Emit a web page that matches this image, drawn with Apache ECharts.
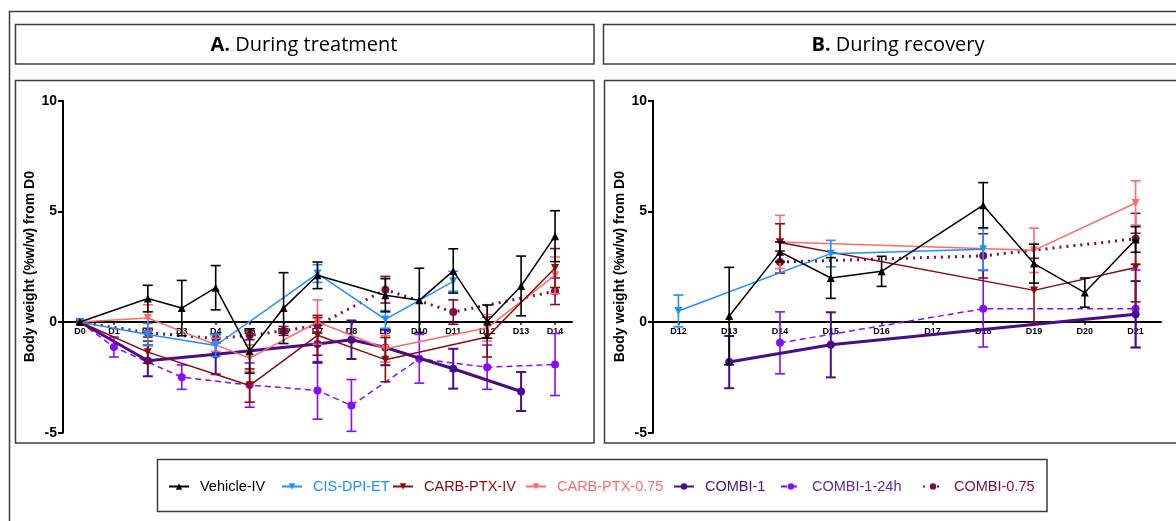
<!DOCTYPE html>
<html>
<head>
<meta charset="utf-8">
<script src="https://cdn.jsdelivr.net/npm/echarts@6/dist/echarts.min.js"></script>
<style>
html,body{margin:0;padding:0;background:#fff;}
#chart{width:1176px;height:521px;}
</style>
</head>
<body>
<div id="chart"></div>
<script>
// ---------- DATA ----------
const daysA = ['D0','D1','D2','D3','D4','D5','D6','D7','D8','D9','D10','D11','D12','D13','D14'];
const daysB = ['D12','D13','D14','D15','D16','D17','D18','D19','D20','D21'];
const yTicks = [-5, 0, 5, 10];
const seriesNames = ['Vehicle-IV','CIS-DPI-ET','CARB-PTX-IV','CARB-PTX-0.75','COMBI-1','COMBI-1-24h','COMBI-0.75'];

// Panel A (during treatment): means and error (SEM)
const vehicleA      = [0, null, 1.06, 0.63, 1.55, -1.31, 0.63, 2.11, null, 1.21, 0.98, 2.31, 0.02, 1.63, 3.88];
const vehicleA_err  = [0, null, 0.6, 1.25, 1.0, 1.0, 1.6, 0.6, null, 0.75, 1.45, 1.0, 0.75, 1.35, 1.15];
const cisA          = [0, null, -0.56, null, -1.06, null, null, 2.19, null, 0.12, null, 1.84, null, null, null];
const cisA_err      = [0, null, 0.5, null, 0.5, null, null, 0.4, null, 0.4, null, 0.45, null, null, null];
const carbA         = [0, null, -1.36, null, null, -2.87, null, -0.6, null, -1.7, null, null, -0.68, null, 2.44];
const carbA_err     = [0, null, 0.5, null, null, 0.75, null, 0.9, null, 1.0, null, null, 0.9, null, 0.88];
const carb075A      = [0, null, 0.18, null, -1.03, -1.63, null, 0.0, null, -1.21, null, null, -0.26, null, 2.11];
const carb075A_err  = [0, null, 0.6, null, 0.3, 0.6, null, 1.0, null, 0.6, null, null, 0.6, null, 0.83];
const combi1A       = [0, null, -1.75, null, -1.46, null, null, -0.99, -0.8, -1.15, null, -2.11, null, -3.14, null];
const combi1A_err   = [0, null, 0.7, null, 0.9, null, null, 0.85, 0.87, 0.8, null, 0.9, null, 0.88, null];
const combi24A      = [0, -1.13, null, -2.49, null, -2.85, null, -3.09, -3.77, null, -1.66, null, -2.04, null, -1.92];
const combi24A_err  = [0, 0.45, null, 0.55, null, 1.0, null, 1.3, 1.17, null, 1.1, null, 1.0, null, 1.4];
const combi075A     = [0, null, -0.48, null, -0.75, -0.6, -0.4, -0.15, null, 1.46, null, 0.45, null, null, 1.39];
const combi075A_err = [0, null, 0.2, null, 0.2, 0.2, 0.2, 0.35, null, 0.6, null, 0.55, null, null, 0.6];

// Panel B (during recovery)
const vehicleB      = [null, 0.27, 3.17, 1.99, 2.29, null, 5.28, 2.64, 1.33, 3.73];
const vehicleB_err  = [null, 2.2, 0.45, 0.92, 0.68, null, 1.02, 0.88, 0.66, 0.58];
const cisB          = [0.5, null, null, 3.09, null, null, 3.29, null, null, null];
const cisB_err      = [0.72, null, null, 0.6, null, null, 0.94, null, null, null];
const carbB         = [null, null, 3.59, null, null, null, null, 1.43, null, 2.46];
const carbB_err     = [null, null, 0.85, null, null, null, null, 1.45, null, 1.55];
const carb075B      = [null, null, 3.62, null, null, null, null, 3.24, null, 5.38];
const carb075B_err  = [null, null, 1.2, null, null, null, null, 1.0, null, 1.0];
const combi1B       = [null, -1.81, null, -1.03, null, null, null, null, null, 0.35];
const combi1B_err   = [null, 1.18, null, 1.47, null, null, null, null, null, 1.5];
const combi24B      = [null, null, -0.94, null, null, null, 0.6, null, null, 0.6];
const combi24B_err  = [null, null, 1.4, null, null, null, 1.73, null, null, 1.75];
const combi075B     = [null, null, 2.71, null, null, null, 2.99, null, null, 3.76];
const combi075B_err = [null, null, 0.5, null, null, null, 1.0, null, null, 1.15];

// ---------- STYLES ----------
const styles = {
  'Vehicle-IV':    {color:'#000000', text:'#000000', symbol:'triangle', rot:0,   lw:1.5, type:'solid',  size:8},
  'CIS-DPI-ET':    {color:'#1e8fff', text:'#1e8fff', symbol:'triangle', rot:180, lw:1.5, type:'solid',  size:8},
  'CARB-PTX-IV':   {color:'#8b0a0a', text:'#8b0a0a', symbol:'triangle', rot:180, lw:1.5, type:'solid',  size:8},
  'CARB-PTX-0.75': {color:'#ff6a6a', text:'#ff6a6a', symbol:'triangle', rot:180, lw:1.5, type:'solid',  size:8},
  'COMBI-1':       {color:'#4a0c8a', text:'#4a0c8a', symbol:'circle',   rot:0,   lw:3,   type:'solid',  size:8},
  'COMBI-1-24h':   {color:'#8a0cff', text:'#5a2aa0', symbol:'circle',   rot:0,   lw:1.5, type:[6,4],    size:8},
  'COMBI-0.75':    {color:'#7d0c44', text:'#7d0c44', symbol:'circle',   rot:0,   lw:3,   type:[2,5],    size:8}
};

const panelA = {
  'Vehicle-IV':[vehicleA, vehicleA_err], 'CIS-DPI-ET':[cisA, cisA_err], 'CARB-PTX-IV':[carbA, carbA_err],
  'CARB-PTX-0.75':[carb075A, carb075A_err], 'COMBI-1':[combi1A, combi1A_err], 'COMBI-1-24h':[combi24A, combi24A_err],
  'COMBI-0.75':[combi075A, combi075A_err]
};
const panelB = {
  'Vehicle-IV':[vehicleB, vehicleB_err], 'CIS-DPI-ET':[cisB, cisB_err], 'CARB-PTX-IV':[carbB, carbB_err],
  'CARB-PTX-0.75':[carb075B, carb075B_err], 'COMBI-1':[combi1B, combi1B_err], 'COMBI-1-24h':[combi24B, combi24B_err],
  'COMBI-0.75':[combi075B, combi075B_err]
};

function errData(mean, err) {
  const out = [];
  mean.forEach((m, i) => {
    if (m !== null && err[i] !== null && err[i] > 0) out.push([i, m - err[i], m + err[i]]);
  });
  return out;
}

function buildSeries(panel, idx) {
  const list = [];
  const drawOrder = ['COMBI-1-24h','COMBI-1','COMBI-0.75','CARB-PTX-0.75','CARB-PTX-IV','CIS-DPI-ET','Vehicle-IV'];
  drawOrder.forEach((name, k) => {
    const st = styles[name];
    const [mean, err] = panel[name];
    list.push({
      name: name,
      type: 'line',
      xAxisIndex: idx, yAxisIndex: idx,
      z: 2 + k,
      data: mean,
      connectNulls: true,
      symbol: st.symbol,
      symbolRotate: st.rot,
      symbolSize: st.size,
      showAllSymbol: true,
      itemStyle: {color: st.color},
      lineStyle: {color: st.color, width: st.lw, type: st.type},
      emphasis: {disabled: true},
      animation: false
    });
    list.push({
      name: name + ' (error)',
      type: 'custom',
      xAxisIndex: idx, yAxisIndex: idx,
      z: 2 + k,
      silent: true,
      data: errData(mean, err),
      renderItem: function (params, api) {
        const x = api.value(0);
        const lo = api.coord([x, api.value(1)]);
        const hi = api.coord([x, api.value(2)]);
        const hw = 5;
        const ls = {stroke: st.color, lineWidth: name === 'COMBI-1' ? 2 : 1.6};
        return {type:'group', children:[
          {type:'line', shape:{x1:lo[0], y1:lo[1], x2:hi[0], y2:hi[1]}, style:ls},
          {type:'line', shape:{x1:lo[0]-hw, y1:lo[1], x2:lo[0]+hw, y2:lo[1]}, style:ls},
          {type:'line', shape:{x1:hi[0]-hw, y1:hi[1], x2:hi[0]+hw, y2:hi[1]}, style:ls}
        ]};
      }
    });
  });
  return list;
}

function xAxisCfg(days, idx) {
  return {
    type: 'category', data: days, gridIndex: idx, boundaryGap: true,
    position: 'bottom', offset: -111,
    axisLine: {onZero: false, lineStyle: {color: '#000', width: 2}},
    axisTick: {show: true, alignWithLabel: true, length: 3, lineStyle: {color: '#000', width: 1.5}},
    axisLabel: {color: '#000', fontFamily: 'Liberation Sans', fontWeight: 'bold', fontSize: 9, margin: 5, interval: 0},
    splitLine: {show: false}
  };
}
function yAxisCfg(idx) {
  return {
    type: 'value', gridIndex: idx, min: yTicks[0], max: yTicks[yTicks.length-1], interval: 5,
    name: 'Body weight (%w/w) from D0', nameLocation: 'middle', nameGap: 20, nameRotate: 90,
    nameTextStyle: {color: '#000', fontFamily: 'Liberation Sans', fontWeight: 'bold', fontSize: 14},
    axisLine: {show: true, onZero: false, lineStyle: {color: '#000', width: 2}},
    axisTick: {show: true, length: 5, lineStyle: {color: '#000', width: 2}},
    axisLabel: {color: '#000', fontFamily: 'Liberation Sans', fontWeight: 'bold', fontSize: 14, margin: 6},
    splitLine: {show: false}
  };
}

const legendTextStart = {'Vehicle-IV':199,'CIS-DPI-ET':312,'CARB-PTX-IV':423,'CARB-PTX-0.75':556,'COMBI-1':704,'COMBI-1-24h':811,'COMBI-0.75':953};
const legends = seriesNames.map(name => ({
  left: legendTextStart[name] - 31, top: 479, padding: 0,
  orient: 'horizontal',
  itemWidth: 20, itemHeight: 8,
  data: [{name: name, textStyle: {color: styles[name].text}}],
  textStyle: {fontFamily: 'Liberation Sans', fontSize: 14.5, padding: [0,0,0,6]},
  selectedMode: false
}));

const boxStyle = {fill: 'none', stroke: '#3c3c3c', lineWidth: 1.5};
const option = {
  animation: false,
  backgroundColor: '#fff',
  grid: [
    {left: 63, top: 100.7, width: 509, height: 332, containLabel: false},
    {left: 653, top: 100.7, width: 508, height: 332, containLabel: false}
  ],
  xAxis: [xAxisCfg(daysA, 0), xAxisCfg(daysB, 1)],
  yAxis: [yAxisCfg(0), yAxisCfg(1)],
  legend: legends,
  graphic: [
    {type:'rect', shape:{x:9.5, y:11.5, width:1200, height:560}, style:boxStyle, z:-1},
    {type:'rect', shape:{x:15.5, y:24.5, width:578.5, height:39.5}, style:boxStyle, z:-1},
    {type:'rect', shape:{x:603.5, y:24.5, width:600, height:39.5}, style:boxStyle, z:-1},
    {type:'rect', shape:{x:15.5, y:80.5, width:578.5, height:362.5}, style:boxStyle, z:-1},
    {type:'rect', shape:{x:604.5, y:80.5, width:600, height:362.5}, style:boxStyle, z:-1},
    {type:'rect', shape:{x:157.5, y:459.5, width:889.5, height:52}, style:boxStyle, z:-1},
    {type:'text', x:304, y:45, style:{text:'{b|A.} During treatment', align:'center', verticalAlign:'middle',
      fontFamily:'Open Sans', fontSize:20, fill:'#000',
      rich:{b:{fontFamily:'Open Sans', fontSize:20, fontWeight:'bold', fill:'#000'}}}},
    {type:'text', x:898, y:45, style:{text:'{b|B.} During recovery', align:'center', verticalAlign:'middle',
      fontFamily:'Open Sans', fontSize:20, fill:'#000',
      rich:{b:{fontFamily:'Open Sans', fontSize:20, fontWeight:'bold', fill:'#000'}}}}
  ],
  series: buildSeries(panelA, 0).concat(buildSeries(panelB, 1))
};

const chart = echarts.init(document.getElementById('chart'), null, {renderer: 'canvas'});
chart.setOption(option);
</script>
</body>
</html>
